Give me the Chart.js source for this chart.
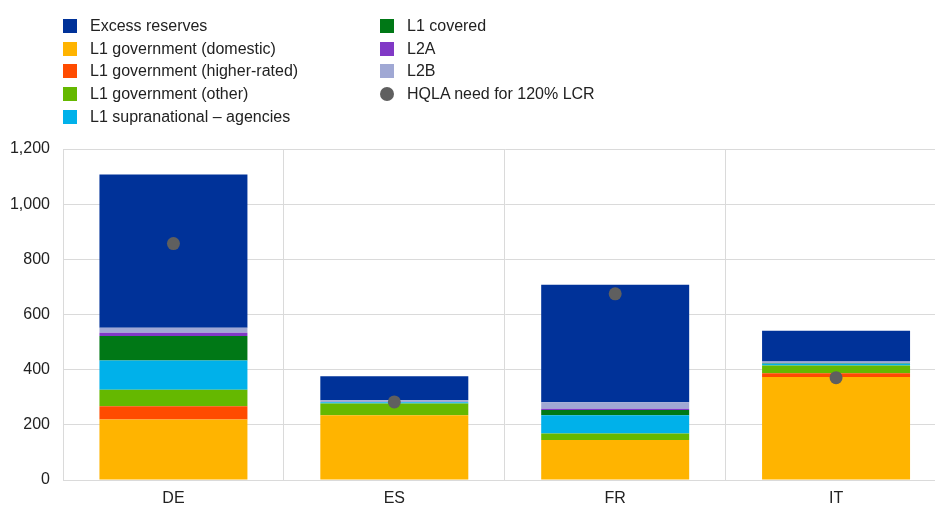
<!DOCTYPE html>
<html>
<head>
<meta charset="utf-8">
<script src="https://cdn.jsdelivr.net/npm/chart.js@4"></script>
<style>
  body { margin: 0; overflow: hidden; background: #fff; font-family: "Liberation Sans", Arial, sans-serif; }
  #wrap { position: relative; width: 953px; height: 505px; }
  #note { position: absolute; left: 8px; top: -17px; font-size: 16px; color: #4169e1; white-space: nowrap; }
  .legend { position: absolute; top: 17px; font-size: 16px; color: #222; }
  .legend div { height: 22.7px; line-height: 18px; position: relative; padding-left: 27px; white-space: nowrap; }
  .legend span { position: absolute; left: 0; top: 2px; width: 14px; height: 14px; }
  .legend span.dot { border-radius: 50%; }
</style>
</head>
<body>
<div id="wrap">
  <div id="note">(EUR billions, Q4 2021)</div>
  <div class="legend" id="leg1" style="left:63px"></div>
  <div class="legend" id="leg2" style="left:380px"></div>
  <canvas id="c" width="953" height="505"></canvas>
</div>
<script>
const countries = ["DE", "ES", "FR", "IT"];

const excessReserves = [556, 87, 426, 111];
const govDomestic = [219, 235, 145, 373];
const govHigherRated = [48, 0, 0, 14];
const govOther = [60, 42, 24, 28];
const supranational = [106, 5, 66, 6];
const covered = [89, 0, 19, 2];
const l2a = [12, 0, 4, 0];
const l2b = [18, 7, 24, 7];
const hqlaNeed = [857, 283, 675, 371];

const yTicks = [0, 200, 400, 600, 800, 1000, 1200];

const series = [
  { label: "L1 government (domestic)", data: govDomestic, color: "#FFB400" },
  { label: "L1 government (higher-rated)", data: govHigherRated, color: "#FF4B00" },
  { label: "L1 government (other)", data: govOther, color: "#65B800" },
  { label: "L1 supranational \u2013 agencies", data: supranational, color: "#00B1EA" },
  { label: "L1 covered", data: covered, color: "#007816" },
  { label: "L2A", data: l2a, color: "#8139C6" },
  { label: "L2B", data: l2b, color: "#A0A8D4" },
  { label: "Excess reserves", data: excessReserves, color: "#003299" }
];

// legend, two columns like the original
const legendCols = [
  ["Excess reserves", "L1 government (domestic)", "L1 government (higher-rated)", "L1 government (other)", "L1 supranational \u2013 agencies"],
  ["L1 covered", "L2A", "L2B", "HQLA need for 120% LCR"]
];
const colorOf = {};
series.forEach(s => colorOf[s.label] = s.color);
legendCols.forEach((col, i) => {
  const el = document.getElementById("leg" + (i + 1));
  col.forEach(name => {
    const row = document.createElement("div");
    const sw = document.createElement("span");
    if (colorOf[name]) {
      sw.style.background = colorOf[name];
    } else {
      sw.className = "dot";
      sw.style.background = "#5F5F5F";
    }
    row.appendChild(sw);
    row.appendChild(document.createTextNode(name));
    el.appendChild(row);
  });
});

const datasets = series.map(s => ({
  type: "bar",
  label: s.label,
  data: s.data,
  backgroundColor: s.color,
  borderWidth: 0,
  barPercentage: 0.67,
  categoryPercentage: 1,
  order: 2
}));
datasets.push({
  type: "line",
  label: "HQLA need for 120% LCR",
  data: hqlaNeed,
  stack: "hqla",
  showLine: false,
  pointRadius: 6.5,
  pointHoverRadius: 6.5,
  pointBackgroundColor: "#5F5F5F",
  pointBorderWidth: 0,
  order: 1
});

new Chart(document.getElementById("c"), {
  data: { labels: countries, datasets: datasets },
  options: {
    responsive: false,
    animation: false,
    layout: { padding: { top: 149, left: 0, right: 0, bottom: 0 } },
    plugins: { legend: { display: false }, tooltip: { enabled: false } },
    scales: {
      x: {
        stacked: true,
        grid: { color: "#DADADA", drawTicks: false, offset: true },
        border: { color: "#DADADA" },
        ticks: { color: "#222", font: { size: 16, family: "Liberation Sans" }, padding: 9 },
        afterFit: s => { s.height = 25; }
      },
      y: {
        stacked: true,
        min: 0,
        max: 1200,
        afterBuildTicks: s => { s.ticks = yTicks.map(v => ({ value: v })); },
        grid: { color: "#DADADA", drawTicks: false },
        border: { color: "#DADADA" },
        ticks: { color: "#222", font: { size: 16, family: "Liberation Sans" }, padding: 13 },
        afterFit: s => { s.width = 63; }
      }
    }
  }
});
</script>
</body>
</html>
